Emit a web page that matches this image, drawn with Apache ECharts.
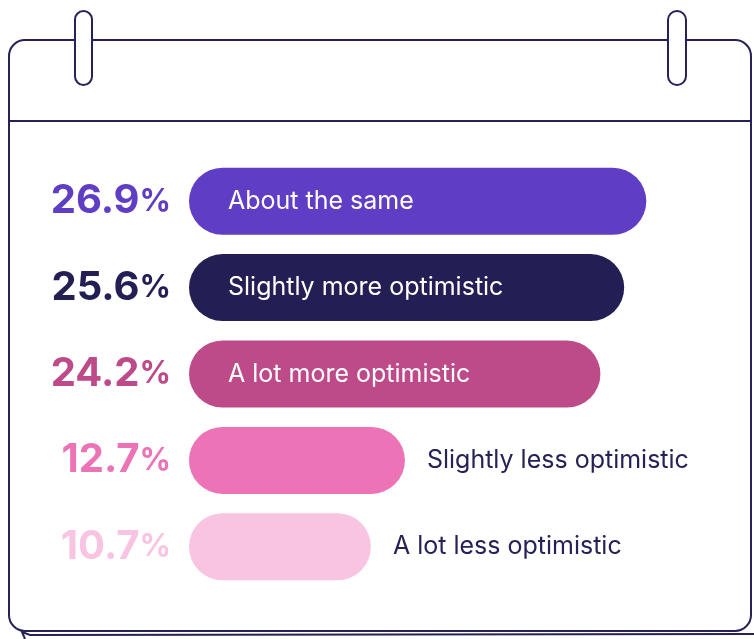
<!DOCTYPE html>
<html>
<head>
<meta charset="utf-8">
<script src="https://cdn.jsdelivr.net/npm/echarts@6/dist/echarts.min.js"></script>
<style>
  html, body { margin: 0; padding: 0; background: #fff; }
  #chart { width: 754px; height: 639px; }
</style>
</head>
<body>
<div id="chart"></div>
<script>
const categories = ["About the same", "Slightly more optimistic", "A lot more optimistic", "Slightly less optimistic", "A lot less optimistic"];
const values = [26.9, 25.6, 24.2, 12.7, 10.7];
const colors = ["#5F3DC4", "#231F55", "#BE4B89", "#EC73B6", "#F9C4E1"];
const insideLabel = [true, true, true, false, false];

const ink = "#262258";
const font = "Inter";

let chart = echarts.init(document.getElementById("chart"));

// rich styles for the percentage on the left
let rich = {};
colors.forEach((c, i) => {
  rich["n" + i] = { fontFamily: font, fontWeight: 700, fontSize: 40, color: c };
  rich["p" + i] = { fontFamily: font, fontWeight: 700, fontSize: 31, color: c };
});

let data = values.map((v, i) => ({
  value: v,
  itemStyle: { color: colors[i] },
  label: insideLabel[i]
    ? { position: "insideLeft", distance: 39, color: "#ffffff" }
    : { position: "right", distance: 22, color: ink },
}));

// calendar frame drawn behind the chart
let graphics = [
  // back page line at bottom
  {
    type: "polyline",
    shape: { points: [[25, 639], [22, 632], [30, 635], [754, 634]] },
    style: { stroke: ink, lineWidth: 2, fill: null },
    z: -2,
  },
  {
    type: "rect",
    shape: { x: 9, y: 40, width: 742, height: 591, r: 16 },
    style: { stroke: ink, lineWidth: 2, fill: "#ffffff" },
    z: -1,
  },
  {
    type: "line",
    shape: { x1: 9, y1: 121, x2: 751, y2: 121 },
    style: { stroke: ink, lineWidth: 2 },
    z: 0,
  },
  {
    type: "rect",
    shape: { x: 75, y: 11, width: 17, height: 74, r: 8.5 },
    style: { stroke: ink, lineWidth: 2, fill: "#ffffff" },
    z: 1,
  },
  {
    type: "rect",
    shape: { x: 668, y: 11, width: 18, height: 74, r: 9 },
    style: { stroke: ink, lineWidth: 2, fill: "#ffffff" },
    z: 1,
  },
];

let option = {
  backgroundColor: "#ffffff",
  animation: false,
  graphic: graphics,
  grid: {
    left: 189,
    right: 55,
    top: 158,
    bottom: 49,
  },
  xAxis: {
    type: "value",
    min: 0,
    max: 30,
    show: false,
  },
  yAxis: {
    type: "category",
    data: categories,
    inverse: true,
    axisLine: { show: false },
    axisTick: { show: false },
    axisLabel: {
      margin: 18,
      formatter: function (value, index) {
        return "{n" + index + "|" + values[index].toFixed(1) + "}{p" + index + "|%}";
      },
      rich: rich,
    },
  },
  series: [
    {
      type: "bar",
      data: data,
      barWidth: 67,
      itemStyle: { borderRadius: 33.5 },
      label: {
        show: true,
        fontFamily: font,
        fontSize: 25,
        formatter: function (p) {
          return categories[p.dataIndex];
        },
      },
    },
  ],
};

chart.setOption(option);
</script>
</body>
</html>
